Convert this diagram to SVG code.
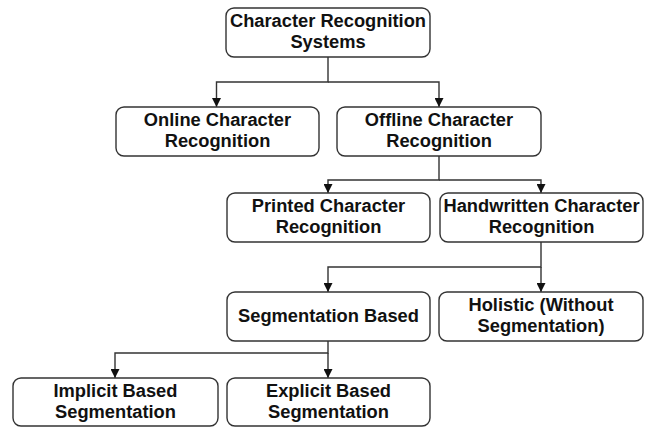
<svg xmlns="http://www.w3.org/2000/svg" width="654" height="428" viewBox="0 0 654 428">
<defs>
<style>
.box{fill:#fff;stroke:#333;stroke-width:1.4}
.t{font-family:"Liberation Sans",Arial,sans-serif;font-weight:bold;font-size:18.3px;fill:#111;text-anchor:middle}
.c{fill:none;stroke:#333;stroke-width:1.4}
</style>
<marker id="ah" viewBox="0 0 10 10" refX="10" refY="5" markerWidth="10" markerHeight="9" markerUnits="userSpaceOnUse" orient="auto">
<path d="M0,0 L10,5 L0,10 Z" fill="#111"/>
</marker>
</defs>
<rect width="654" height="428" fill="#fff"/>
<g id="connectors">
<path class="c" d="M328,57 V82 H216.5 V107" marker-end="url(#ah)"/>
<path class="c" d="M328,82 H439 V107" marker-end="url(#ah)"/>
<path class="c" d="M439,156 V180 H328 V193" marker-end="url(#ah)"/>
<path class="c" d="M439,180 H541 V193" marker-end="url(#ah)"/>
<path class="c" d="M541,242 V267 H328 V292" marker-end="url(#ah)"/>
<path class="c" d="M541,267 V292" marker-end="url(#ah)"/>
<path class="c" d="M328,341 V353 H115 V378" marker-end="url(#ah)"/>
<path class="c" d="M328,353 V378" marker-end="url(#ah)"/>
</g>
<g id="crs">
<rect class="box" x="226" y="8" width="204" height="49" rx="8"/>
<text class="t" x="328" y="27">Character Recognition</text>
<text class="t" x="328" y="48">Systems</text>
</g>
<g id="online">
<rect class="box" x="116" y="107" width="203" height="49" rx="8"/>
<text class="t" x="217.5" y="126">Online Character</text>
<text class="t" x="217.5" y="147">Recognition</text>
</g>
<g id="offline">
<rect class="box" x="337" y="107" width="204" height="49" rx="8"/>
<text class="t" x="439" y="126">Offline Character</text>
<text class="t" x="439" y="147">Recognition</text>
</g>
<g id="printed">
<rect class="box" x="227" y="193" width="203" height="49" rx="8"/>
<text class="t" x="328.5" y="212">Printed Character</text>
<text class="t" x="328.5" y="233">Recognition</text>
</g>
<g id="handwritten">
<rect class="box" x="440" y="193" width="203" height="49" rx="8"/>
<text class="t" x="541.5" y="212">Handwritten Character</text>
<text class="t" x="541.5" y="233">Recognition</text>
</g>
<g id="segmentation">
<rect class="box" x="227" y="292" width="203" height="49" rx="8"/>
<text class="t" x="328.5" y="322">Segmentation Based</text>
</g>
<g id="holistic">
<rect class="box" x="439" y="292" width="204" height="49" rx="8"/>
<text class="t" x="541" y="311">Holistic (Without</text>
<text class="t" x="541" y="332">Segmentation)</text>
</g>
<g id="implicit">
<rect class="box" x="13" y="378" width="205" height="48" rx="8"/>
<text class="t" x="115.5" y="397">Implicit Based</text>
<text class="t" x="115.5" y="418">Segmentation</text>
</g>
<g id="explicit">
<rect class="box" x="227" y="378" width="203" height="48" rx="8"/>
<text class="t" x="328.5" y="397">Explicit Based</text>
<text class="t" x="328.5" y="418">Segmentation</text>
</g>
</svg>
